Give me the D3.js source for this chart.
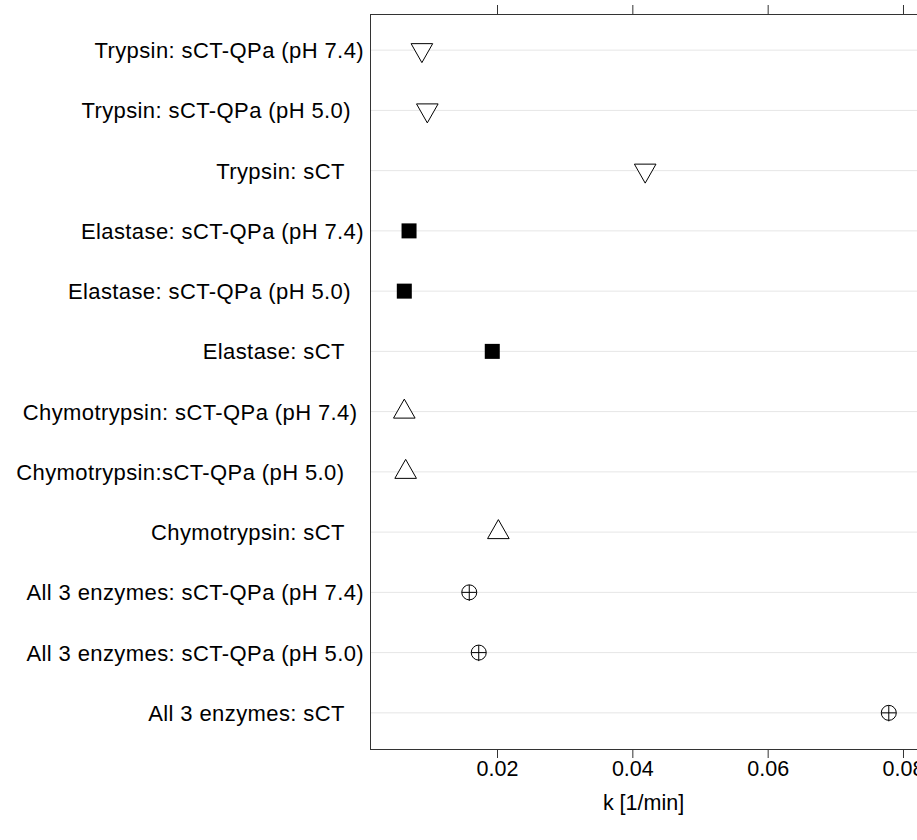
<!DOCTYPE html>
<html>
<head>
<meta charset="utf-8">
<script src="https://cdn.jsdelivr.net/npm/d3@7"></script>
<style>
body { margin: 0; background: #fff; }
text { font-family: "Liberation Sans", Arial, sans-serif; }
</style>
</head>
<body>
<div id="canvas"></div>
<script>
// dotplot of rate constants

var width = 917;
var height = 840;

// rows top to bottom (trailing spaces kept as in the original labels)
var labels = [
	"Trypsin: sCT-QPa (pH 7.4)",
	"Trypsin: sCT-QPa (pH 5.0)  ",
	"Trypsin: sCT   ",
	"Elastase: sCT-QPa (pH 7.4)",
	"Elastase: sCT-QPa (pH 5.0)  ",
	"Elastase: sCT   ",
	"Chymotrypsin: sCT-QPa (pH 7.4) ",
	"Chymotrypsin:sCT-QPa (pH 5.0)   ",
	"Chymotrypsin: sCT   ",
	"All 3 enzymes: sCT-QPa (pH 7.4)",
	"All 3 enzymes: sCT-QPa (pH 5.0)",
	"All 3 enzymes: sCT   "
];
var enzyme = ["trypsin","trypsin","trypsin","elastase","elastase","elastase",
	"chymo","chymo","chymo","all","all","all"];
var kvals = [0.0089, 0.0097, 0.0419, 0.0070, 0.0063, 0.0193,
	0.0063, 0.0065, 0.0202, 0.0159, 0.0173, 0.0779];
var xticks = [0.02, 0.04, 0.06, 0.08];

var pLeft = 370, pRight = 917, pTop = 14, pBottom = 749;

var x = d3.scaleLinear().domain([0.00123, 0.08207]).range([pLeft, pRight]);
var y = d3.scaleLinear().domain([0.4, labels.length + 0.6]).range([pTop, pBottom]);

var data = labels.map(function(l, i){
	return {label: l, enz: enzyme[i], k: kvals[i], row: i + 1};
});

var svg = d3.select("#canvas").append("svg")
	.attr("width", width)
	.attr("height", height);

// reference lines
svg.selectAll("line.ref")
	.data(data)
	.enter()
	.append("line")
	.attr("class", "ref")
	.attr("x1", pLeft).attr("x2", pRight + 10)
	.attr("y1", function(d){return y(d.row);})
	.attr("y2", function(d){return y(d.row);})
	.style("stroke", "#e6e6e6")
	.style("stroke-width", 1);

// y labels
svg.selectAll("text.lab")
	.data(data)
	.enter()
	.append("text")
	.attr("class", "lab")
	.attr("x", 364)
	.attr("y", function(d){return y(d.row);})
	.attr("dy", "0.36em")
	.attr("text-anchor", "end")
	.style("white-space", "pre")
	.style("font-size", "22px")
	.style("letter-spacing", "0.4px")
	.text(function(d){return d.label;});

// axes top and bottom
var axB = d3.axisBottom(x).tickValues(xticks).tickSize(9).tickPadding(3)
	.tickFormat(d3.format(".2f"));
var gB = svg.append("g").attr("transform", "translate(0," + pBottom + ")").call(axB);
gB.select(".domain").remove();
gB.selectAll("text").style("font-size", "21.5px").style("fill", "#000")
	.attr("font-family", "Liberation Sans, Arial, sans-serif");
gB.selectAll("line").style("stroke", "#333");

var axT = d3.axisTop(x).tickValues(xticks).tickSize(9).tickFormat("");
var gT = svg.append("g").attr("transform", "translate(0," + pTop + ")").call(axT);
gT.select(".domain").remove();
gT.selectAll("line").style("stroke", "#333");

// panel border
svg.append("rect")
	.attr("x", pLeft + 0.5).attr("y", pTop + 0.5)
	.attr("width", pRight + 10 - pLeft).attr("height", pBottom - pTop)
	.style("fill", "none")
	.style("stroke", "#333")
	.style("stroke-width", 1);

// symbols
var pts = svg.selectAll("g.pt")
	.data(data)
	.enter()
	.append("g")
	.attr("class", "pt")
	.attr("transform", function(d){return "translate(" + x(d.k) + "," + y(d.row) + ")";});

pts.each(function(d){
	var g = d3.select(this);
	switch(d.enz){
		case "trypsin":
			g.append("path").attr("d", "M-10.8,-6.5L10.8,-6.5L0,12.5Z")
				.style("fill", "#fff").style("stroke", "#000").style("stroke-width", 1);
			break;
		case "chymo":
			g.append("path").attr("d", "M-10.8,6.5L10.8,6.5L0,-12.5Z")
				.style("fill", "#fff").style("stroke", "#000").style("stroke-width", 1);
			break;
		case "elastase":
			g.append("rect").attr("x", -7.5).attr("y", -7.5).attr("width", 15).attr("height", 15)
				.style("fill", "#000");
			break;
		default:
			g.append("circle").attr("r", 7.5)
				.style("fill", "none").style("stroke", "#000").style("stroke-width", 1);
			g.append("path").attr("d", "M-7.5,0L7.5,0M0,-7.5L0,8.5")
				.style("stroke", "#000").style("stroke-width", 1);
			break;
	}
});

// axis title
svg.append("text")
	.attr("x", (pLeft + pRight) / 2)
	.attr("y", 810)
	.attr("text-anchor", "middle")
	.style("font-size", "21.5px")
	.text("k [1/min]");
</script>
</body>
</html>
